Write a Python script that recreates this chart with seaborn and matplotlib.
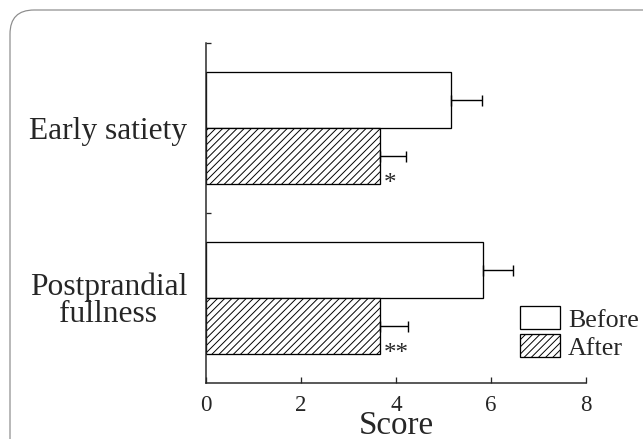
import matplotlib
matplotlib.use("Agg")
import matplotlib.pyplot as plt
from matplotlib.patches import FancyBboxPatch
from matplotlib.transforms import IdentityTransform
import pandas as pd
import seaborn as sns

# Symptom scores before and after treatment (mean and one-sided error)
symptoms = ["Early satiety", "Postprandial\nfullness"]
times = ["Before", "After"]
before_mean = [5.16, 5.83]
after_mean = [3.66, 3.66]
before_err = [0.65, 0.63]
after_err = [0.55, 0.59]
significance = ["*", "**"]
x_ticks = [0, 2, 4, 6, 8]

DPI = 86


def pt(px):
    """Convert a size in pixels to points at the figure resolution."""
    return px * 72.0 / DPI


sns.set_style("ticks")
plt.rcParams["font.family"] = ["Liberation Serif", "DejaVu Serif"]
plt.rcParams["hatch.linewidth"] = 0.8

df = pd.DataFrame({
    "Symptom": symptoms * 2,
    "Time": [times[0]] * len(symptoms) + [times[1]] * len(symptoms),
    "Score": before_mean + after_mean,
})

fig = plt.figure(figsize=(643 / DPI, 439 / DPI), dpi=DPI)
ax = fig.add_axes([206 / 643, 1 - 383 / 439, (586 - 206) / 643, (383 - 43) / 439])

sns.barplot(data=df, x="Score", y="Symptom", hue="Time", orient="h",
            order=symptoms, hue_order=times, width=0.66, gap=0,
            palette=["white", "white"], edgecolor="black", linewidth=pt(1.3),
            errorbar=None, legend=False, ax=ax)

before_bars, after_bars = ax.containers[0], ax.containers[1]
for bar in after_bars:
    bar.set_hatch("////")

# One-sided error bars at the end of each bar
for bars, errs in ((before_bars, before_err), (after_bars, after_err)):
    for bar, err in zip(bars, errs):
        yc = bar.get_y() + bar.get_height() / 2
        ax.errorbar(bar.get_width(), yc, xerr=[[0], [err]], fmt="none",
                    ecolor="black", elinewidth=pt(1.4), capsize=pt(5.5),
                    capthick=pt(1.4))

# Significance marks next to the post-treatment bars
for bar, mark in zip(after_bars, significance):
    ax.annotate(mark, xy=(bar.get_width(), bar.get_y() + bar.get_height()),
                xytext=(pt(4), pt(-11)), textcoords="offset points",
                ha="left", va="bottom", fontsize=pt(25))

ax.set_xlim(0, 8)
ax.set_ylim(1.5, -0.5)
ax.set_xticks(x_ticks)
ax.set_xticklabels([str(t) for t in x_ticks], fontsize=pt(23))
ax.set_yticks(range(len(symptoms)))
ax.set_yticklabels(symptoms, fontsize=pt(31.5), linespacing=0.92)
ax.set_yticks([-0.5, 0.5], minor=True)
ax.tick_params(axis="y", which="major", length=0, pad=pt(19))
ax.tick_params(axis="y", which="minor", direction="in", length=pt(5),
               width=pt(1.3))
ax.tick_params(axis="x", direction="in", length=pt(6), width=pt(1.3),
               pad=pt(12))
for lbl in ax.get_yticklabels():
    lbl.set_horizontalalignment("right")
    lbl.set_multialignment("center")

ax.set_xlabel("Score", fontsize=pt(33), labelpad=pt(-6))
ax.set_ylabel("")

sns.despine(ax=ax)
for side in ("left", "bottom"):
    ax.spines[side].set_linewidth(pt(1.5))

ax.legend(handles=[before_bars[0], after_bars[0]], labels=times,
          loc="upper left", bbox_to_anchor=(520 / 643, 1 - 306 / 439),
          bbox_transform=fig.transFigure, frameon=False, fontsize=pt(26),
          handlelength=40 / 26, handleheight=26 / 26, handletextpad=8 / 26,
          labelspacing=0.1, borderpad=0, borderaxespad=0)

# Rounded panel outline
frame = FancyBboxPatch((10, -60), 720, 439 - 10 + 60,
                       boxstyle="round,pad=0,rounding_size=24",
                       transform=IdentityTransform(), facecolor="none",
                       edgecolor="#8c8c8c", linewidth=pt(1.2))
fig.patches.append(frame)

fig.savefig("out.png", dpi=DPI, facecolor="white")
